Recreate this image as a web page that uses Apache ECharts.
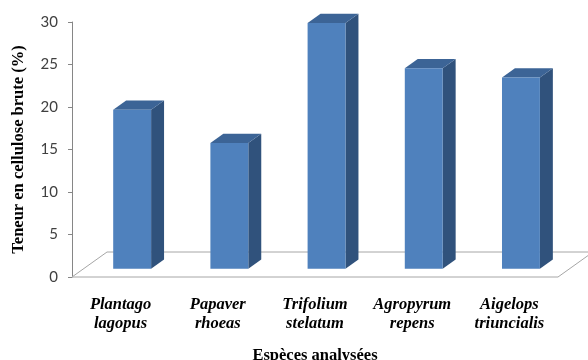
<!DOCTYPE html>
<html>
<head>
<meta charset="utf-8">
<script src="https://cdn.jsdelivr.net/npm/echarts@6/dist/echarts.min.js"></script>
<style>
  html, body { margin: 0; padding: 0; background: #ffffff; }
  #chart { width: 588px; height: 360px; }
</style>
</head>
<body>
<div id="chart"></div>
<script>
// Species analysed (two-line labels) and crude cellulose content (%)
const species = ['Plantago\nlagopus', 'Papaver\nrhoeas', 'Trifolium\nstelatum', 'Agropyrum\nrepens', 'Aigelops\ntriuncialis'];
const cellulose = [18.7, 14.8, 28.9, 23.6, 22.5];
const yTicks = { min: 0, max: 30, interval: 5 };

// Oblique depth of the floor (px) and where the columns sit within it
const DEPTH_X = 35, DEPTH_Y = -25;
const BAR_FRONT = 0.33, BAR_DEPTH = 0.37, BAR_WIDTH = 0.39;

const chart = echarts.init(document.getElementById('chart'), null, { renderer: 'canvas' });

function renderFloor(params, api) {
  const cs = params.coordSys;
  const x0 = cs.x, x1 = cs.x + cs.width, y0 = cs.y + cs.height;
  return {
    type: 'polygon',
    shape: { points: [[x0, y0], [x1, y0], [x1 + DEPTH_X, y0 + DEPTH_Y], [x0 + DEPTH_X, y0 + DEPTH_Y]] },
    style: { fill: '#ffffff', stroke: '#a6a6a6', lineWidth: 1 },
    z2: 0
  };
}

function renderColumn(params, api) {
  const i = api.value(0), v = api.value(1);
  const base = api.coord([i, 0]);
  const top = api.coord([i, v]);
  const band = api.size([1, 0])[0];
  const w = band * BAR_WIDTH;
  const ox = DEPTH_X * BAR_FRONT, oy = DEPTH_Y * BAR_FRONT;
  const bx = DEPTH_X * BAR_DEPTH, by = DEPTH_Y * BAR_DEPTH;
  const xl = base[0] + ox - w / 2, xr = xl + w;
  const yb = base[1] + oy, yt = top[1] + oy;
  return {
    type: 'group',
    children: [
      { type: 'polygon', shape: { points: [[xr, yt], [xr + bx, yt + by], [xr + bx, yb + by], [xr, yb]] },
        style: { fill: '#30527c' } },
      { type: 'polygon', shape: { points: [[xl, yt], [xl + bx, yt + by], [xr + bx, yt + by], [xr, yt]] },
        style: { fill: '#3c6496' } },
      { type: 'rect', shape: { x: xl, y: yt, width: w, height: yb - yt },
        style: { fill: '#4f81bd' } }
    ]
  };
}

const serif = { fontFamily: 'Liberation Serif', fontWeight: 'bold', fontSize: 16.5, color: '#000000' };

chart.setOption({
  animation: false,
  backgroundColor: '#ffffff',
  grid: { left: 72, right: 30, top: 22, bottom: 83, containLabel: false, outerBoundsMode: 'none' },
  xAxis: {
    type: 'category',
    data: species,
    axisLine: { show: false },
    axisTick: { show: false },
    axisLabel: Object.assign({ margin: 18, interval: 0, fontStyle: 'italic', lineHeight: 19 }, serif),
    name: 'Espèces analysées',
    nameLocation: 'middle',
    nameGap: 70,
    nameTextStyle: serif
  },
  yAxis: {
    type: 'value',
    min: yTicks.min,
    max: yTicks.max,
    interval: yTicks.interval,
    axisLine: { show: true, lineStyle: { color: '#868686', width: 1 } },
    axisTick: { show: true, length: 4, lineStyle: { color: '#868686' } },
    splitLine: { show: false },
    axisLabel: { margin: 14, color: '#404040', fontFamily: 'Lato', fontSize: 15 },
    name: 'Teneur en cellulose brute (%)',
    nameLocation: 'middle',
    nameGap: 45,
    nameTextStyle: serif
  },
  series: [
    { type: 'custom', renderItem: renderFloor, data: [[0, 0]], z: 1, silent: true, clip: false },
    { type: 'custom', renderItem: renderColumn, data: cellulose.map((v, i) => [i, v]), z: 2, clip: false }
  ]
});
</script>
</body>
</html>
